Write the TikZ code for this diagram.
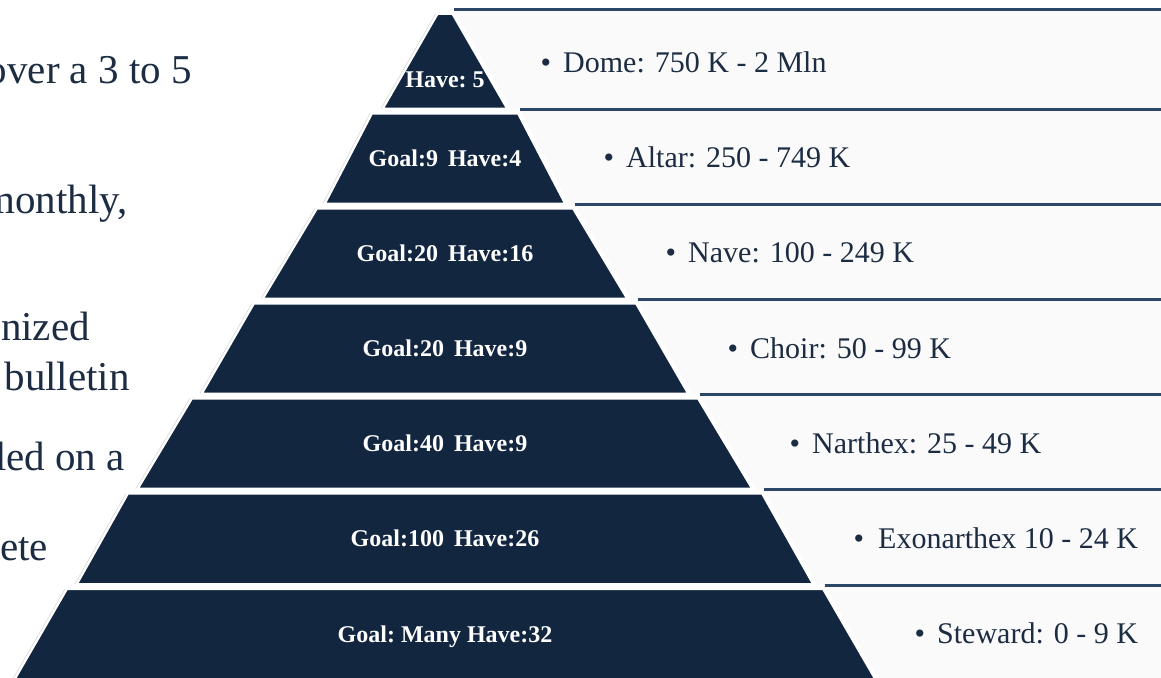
\documentclass[tikz,border=0pt]{standalone}
\usepackage{fontspec}
\setmainfont{Liberation Serif}
\definecolor{layerblue}{RGB}{18,38,64}
\definecolor{rulerblue}{RGB}{45,70,104}
\definecolor{inkblue}{RGB}{28,44,66}
\definecolor{panelgray}{RGB}{250,250,250}

\begin{document}
\begin{tikzpicture}[x=1pt,y=-1pt,
  layer/.style={fill=layerblue, draw=white, line width=2pt, line join=round},
  shadow/.style={draw=black!14, line width=0.7pt},
  panel/.style={fill=panelgray},
  panelrule/.style={draw=rulerblue, line width=3pt},
  tier/.style={text=white, anchor=base, inner sep=0pt, font=\fontsize{24}{24}\selectfont\bfseries},
  bandtext/.style={text=inkblue, anchor=base west, inner sep=0pt, font=\fontsize{30}{30}\selectfont},
  side/.style={text=inkblue, anchor=base east, inner sep=0pt, font=\fontsize{41}{41}\selectfont}]
% \draw[help lines] (0,0) grid[step=50] (1161,677);
\useasboundingbox (0,0) rectangle (1161,677);
\clip (0,0) rectangle (1161,677);

% text of the slide, left of the pyramid
\node[side] (side-1) at (192,83) {over a 3 to 5};
\node[side] (side-2) at (128,213) {monthly,};
\node[side] (side-3) at (90,340) {nized};
\node[side] (side-4) at (130,390) {bulletin};
\node[side] (side-5) at (125,470) {led on a};
\node[side] (side-6) at (48,560) {ete};

% panels on the right
\foreach \i/\top/\bot/\wt/\wb/\next in {1/14/108.5/7.5/62/113.5, 2/113.5/203.5/73/120/208.5, 3/208.5/298.5/128/182/303.5, 4/303.5/393.5/191/243/398.5, 5/398.5/488.5/253/307/493.5, 6/493.5/584/317/368/589, 7/589/684/378/433/688}{
  \pgfmathsetmacro\slope{(\wb-\wt)/(\bot-\top)}
  \pgfmathsetmacro\xa{445+\wt+4-4*\slope}
  \pgfmathsetmacro\xb{445+\wt+4+(\next-4-\top)*\slope}
  \fill[panel] (\xa,\top-4) -- (1170,\top-4) -- (1170,\next-4) -- (\xb,\next-4) -- cycle;
  \draw[panelrule] (\xa,\top-4) -- (1170,\top-4);
}

% pyramid layers
\foreach \i/\top/\bot/\wt/\wb in {1/14/108.5/7.5/62, 2/113.5/203.5/73/120, 3/208.5/298.5/128/182, 4/303.5/393.5/191/243, 5/398.5/488.5/253/307, 6/493.5/584/317/368, 7/589/684/378/433}{
  \draw[shadow] ([xshift=-2pt]445-\wt,\top) -- ([xshift=-2pt]445-\wb,\bot);
  \filldraw[layer] (445-\wt,\top) -- (445+\wt,\top) -- (445+\wb,\bot) -- (445-\wb,\bot) -- cycle;
}

\node[tier] (tier-1) at (445,88) {Have:\ 5};
\node[tier] (tier-2) at (445,166) {Goal:9\ \,Have:4};
\node[tier] (tier-3) at (445,261) {Goal:20\ \,Have:16};
\node[tier] (tier-4) at (445,356) {Goal:20\ \,Have:9};
\node[tier] (tier-5) at (445,451) {Goal:40\ \,Have:9};
\node[tier] (tier-6) at (445,546) {Goal:100\ \,Have:26};
\node[tier] (tier-7) at (445,642) {Goal:\ Many\ Have:32};

\node[bandtext] (band-1) at (563,73) {\llap{\textbullet\hspace{12pt}}Dome: 750 K - 2 Mln};
\node[bandtext] (band-2) at (626,167) {\llap{\textbullet\hspace{12pt}}Altar: 250 - 749 K};
\node[bandtext] (band-3) at (688,262) {\llap{\textbullet\hspace{12pt}}Nave: 100 - 249 K};
\node[bandtext] (band-4) at (750,358) {\llap{\textbullet\hspace{12pt}}Choir: 50 - 99 K};
\node[bandtext] (band-5) at (812,453) {\llap{\textbullet\hspace{12pt}}Narthex: 25 - 49 K};
\node[bandtext] (band-6) at (878,548) {\llap{\textbullet\hspace{14pt}}Exonarthex 10 - 24 K};
\node[bandtext] (band-7) at (937,643) {\llap{\textbullet\hspace{12pt}}Steward: 0 - 9 K};
\end{tikzpicture}
\end{document}
